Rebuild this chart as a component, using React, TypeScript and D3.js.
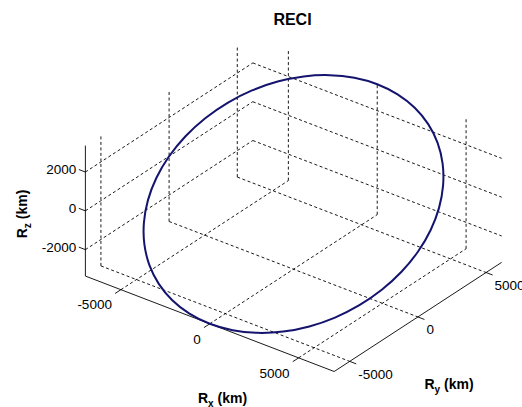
import React from 'react';
import * as d3 from 'd3';

// ---- data (orbit position in ECI, km) ----
const Rx = [7000, 6894, 6578, 6062, 5362, 4500, 3500, 2394, 1216, 0, -1216, -2394, -3500, -4500, -5362, -6062, -6578, -6894,
  -7000, -6894, -6578, -6062, -5362, -4500, -3500, -2394, -1216, 0, 1216, 2394, 3500, 4500, 5362, 6062, 6578, 6894];
const Ry = [0, 1066, 2100, 3070, 3947, 4703, 5317, 5770, 6047, 6140, 6047, 5770, 5317, 4703, 3947, 3070, 2100, 1066,
  0, -1066, -2100, -3070, -3947, -4703, -5317, -5770, -6047, -6140, -6047, -5770, -5317, -4703, -3947, -3070, -2100, -1066];
const Rz = [0, 584, 1150, 1681, 2161, 2575, 2911, 3159, 3310, 3362, 3310, 3159, 2911, 2575, 2161, 1681, 1150, 584,
  0, -584, -1150, -1681, -2161, -2575, -2911, -3159, -3310, -3362, -3310, -3159, -2911, -2575, -2161, -1681, -1150, -584];

const xTicks = [-5000, 0, 5000];
const yTicks = [-5000, 0, 5000];
const zTicks = [-2000, 0, 2000];
const titleText = 'RECI';

// ---- layout ----
const W = 522;
const H = 407;
const AZ = -37.5;
const EL = 30;
const CX = 293.5;
const CY = 204;
const PX_PER_KM = 0.0224;
const TICK_PX = 7;
const FONT = '"Liberation Sans", Arial, sans-serif';

export default function App() {
  const xLim = d3.extent(Rx) as [number, number];
  const yLim = d3.extent(Ry) as [number, number];
  const zLim = d3.extent(Rz) as [number, number];
  const km = d3.scaleLinear().domain([0, 1]).range([0, PX_PER_KM]);
  const az = (AZ * Math.PI) / 180;
  const el = (EL * Math.PI) / 180;
  const proj = (x: number, y: number, z: number): [number, number] => {
    const u = x * Math.cos(az) - y * Math.sin(az);
    const w = x * Math.sin(az) + y * Math.cos(az);
    const v = w * Math.sin(el) + z * Math.cos(el);
    return [CX + km(u), CY - km(v)];
  };
  const [x0, x1] = xLim;
  const [y0, y1] = yLim;
  const [z0, z1] = zLim;

  type Seg = [[number, number, number], [number, number, number]];
  const grid: Seg[] = [];
  // floor z = zmin
  xTicks.forEach((x) => grid.push([[x, y0, z0], [x, y1, z0]]));
  yTicks.forEach((y) => grid.push([[x0, y, z0], [x1, y, z0]]));
  // wall x = xmin
  yTicks.forEach((y) => grid.push([[x0, y, z0], [x0, y, z1]]));
  zTicks.forEach((z) => grid.push([[x0, y0, z], [x0, y1, z]]));
  // wall y = ymax
  xTicks.forEach((x) => grid.push([[x, y1, z0], [x, y1, z1]]));
  zTicks.forEach((z) => grid.push([[x0, y1, z], [x1, y1, z]]));

  const axes: Seg[] = [
    [[x0, y0, z0], [x1, y0, z0]],
    [[x1, y0, z0], [x1, y1, z0]],
    [[x0, y0, z0], [x0, y0, z1]],
  ];

  const dirPx = (dx: number, dy: number, dz: number): [number, number] => {
    const a = proj(0, 0, 0);
    const b = proj(dx, dy, dz);
    const len = Math.hypot(b[0] - a[0], b[1] - a[1]);
    return [((b[0] - a[0]) / len) * TICK_PX, ((b[1] - a[1]) / len) * TICK_PX];
  };
  const xDir = dirPx(0, -1000, 0);
  const yDir = dirPx(1000, 0, 0);
  const zDir = dirPx(-1000, 0, 0);

  const pts = Rx.map((x, i) => proj(x, Ry[i], Rz[i]));
  const line = d3.line<[number, number]>().curve(d3.curveCatmullRomClosed.alpha(0.5));
  const orbitPath = line(pts) || '';

  const lineEl = (s: Seg, key: string, props: any) => {
    const a = proj(...s[0]);
    const b = proj(...s[1]);
    return <line key={key} x1={a[0]} y1={a[1]} x2={b[0]} y2={b[1]} {...props} />;
  };

  return (
    <svg width={W} height={H} style={{ position: 'absolute', left: 0, top: 0, background: '#fff' }} fontFamily={FONT}>
      <rect width={W} height={H} fill="#fff" />
      <g>
        {grid.map((s, i) => lineEl(s, 'g' + i, { stroke: '#000', strokeWidth: 0.9, strokeDasharray: '3 2.5' }))}
      </g>
      <g>
        {axes.map((s, i) => lineEl(s, 'a' + i, { stroke: '#000', strokeWidth: 0.9 }))}
        {xTicks.map((t) => {
          const p = proj(t, y0, z0);
          return (
            <g key={'xt' + t}>
              <line x1={p[0]} y1={p[1]} x2={p[0] + xDir[0]} y2={p[1] + xDir[1]} stroke="#000" strokeWidth={0.9} />
              <text x={p[0] - 9} y={p[1] + 19.8} textAnchor="end" fontSize={13.5}>{t}</text>
            </g>
          );
        })}
        {yTicks.map((t) => {
          const p = proj(x1, t, z0);
          return (
            <g key={'yt' + t}>
              <line x1={p[0]} y1={p[1]} x2={p[0] + yDir[0]} y2={p[1] + yDir[1]} stroke="#000" strokeWidth={0.9} />
              <text x={p[0] + 8.5} y={p[1] + 17.3} textAnchor="start" fontSize={13.5}>{t}</text>
            </g>
          );
        })}
        {zTicks.map((t) => {
          const p = proj(x0, y0, t);
          return (
            <g key={'zt' + t}>
              <line x1={p[0]} y1={p[1]} x2={p[0] + zDir[0]} y2={p[1] + zDir[1]} stroke="#000" strokeWidth={0.9} />
              <text x={p[0] - 9.2} y={p[1] + 2.3} textAnchor="end" fontSize={13.5}>{t}</text>
            </g>
          );
        })}
      </g>
      <path d={orbitPath} fill="none" stroke="#14146e" strokeWidth={2} />
      <text x={292.5} y={25} textAnchor="middle" fontSize={16} fontWeight="bold">{titleText}</text>
      <text x={222.5} y={402.7} textAnchor="middle" fontSize={14} fontWeight="bold">
        R<tspan fontSize={10} dy={4}>x</tspan><tspan dy={-4}> (km)</tspan>
      </text>
      <text x={449} y={389.3} textAnchor="middle" fontSize={14} fontWeight="bold">
        R<tspan fontSize={10} dy={4}>y</tspan><tspan dy={-4}> (km)</tspan>
      </text>
      <text transform="translate(26.7,214) rotate(-90)" textAnchor="middle" fontSize={14} fontWeight="bold">
        R<tspan fontSize={10} dy={4}>z</tspan><tspan dy={-4}> (km)</tspan>
      </text>
    </svg>
  );
}
